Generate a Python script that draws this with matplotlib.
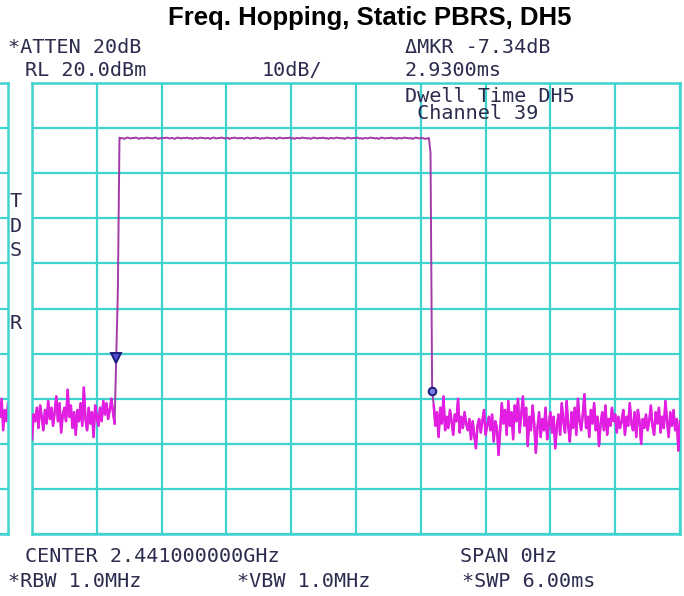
import numpy as np
import matplotlib
matplotlib.use("Agg")
import matplotlib.pyplot as plt

# ---------------- data ----------------
sweep_ms = 6.0
ref_level_dbm = 20.0
db_per_div = 10.0

noise_left = [
    -59.0, -53.5, -55.0, -52.0, -56.5, -51.5, -54.0, -57.0, -52.5, -55.5,
    -50.5, -54.5, -52.0, -56.0, -53.0, -49.5, -55.0, -51.0, -57.5, -53.5,
    -52.0, -55.0, -48.0, -54.0, -51.5, -56.5, -53.0, -58.0, -52.5, -55.0,
    -51.0, -56.0, -47.5, -54.5, -57.0, -52.0, -55.5, -53.0, -58.5, -51.5,
    -54.0, -56.0, -52.0, -55.0, -50.5, -53.5, -51.0, -54.5, -52.5, -50.0,
    -53.0, -55.5,
]
rise_edge = [-41.0, -26.0]
pulse_top = [
    7.9, 7.7, 7.8, 7.6, 7.8, 7.9, 7.8, 7.7, 7.8, 7.8, 7.9, 7.8, 7.6, 7.8, 7.8, 7.7,
    7.8, 7.9, 7.8, 7.8, 7.7, 7.8, 7.9, 7.8, 7.6, 7.8, 7.7, 7.8, 7.8, 7.9, 7.8, 7.7,
    7.8, 7.8, 7.6, 7.8, 7.9, 7.8, 7.7, 7.8, 7.8, 7.8, 7.9, 7.7, 7.8, 7.6, 7.8, 7.8,
    7.7, 7.8, 7.9, 7.8, 7.8, 7.7, 7.8, 7.8, 7.6, 7.8, 7.9, 7.8, 7.7, 7.8, 7.8, 7.9,
    7.8, 7.7, 7.8, 7.8, 7.6, 7.8, 7.8, 7.9, 7.8, 7.7, 7.8, 7.8, 7.8, 7.6, 7.8, 7.9,
    7.8, 7.7, 7.8, 7.8, 7.9, 7.8, 7.8, 7.6, 7.8, 7.7, 7.8, 7.9, 7.8, 7.8, 7.7, 7.8,
    7.8, 7.6, 7.8, 7.9, 7.8, 7.7, 7.8, 7.8, 7.8, 7.9, 7.7, 7.8, 7.6, 7.8, 7.8, 7.7,
    7.8, 7.9, 7.8, 7.8, 7.7, 7.8, 7.6, 7.8, 7.9, 7.8, 7.7, 7.8, 7.8, 7.8, 7.9, 7.7,
    7.8, 7.6, 7.8, 7.8, 7.7, 7.8, 7.9, 7.8, 7.8, 7.7, 7.8, 7.6, 7.8, 7.9, 7.8, 7.7,
    7.8, 7.8, 7.8, 7.9, 7.7, 7.8, 7.6, 7.8, 7.8, 7.7, 7.8, 7.9, 7.8, 7.8, 7.7, 7.8,
    7.6, 7.8, 7.9, 7.8, 7.7, 7.8, 7.8, 7.8, 7.9, 7.7, 7.8, 7.6, 7.8, 7.8, 7.7, 7.8,
    7.9, 7.8, 7.8, 7.7, 7.8, 7.6, 7.8, 7.9, 7.8, 7.7, 7.8, 7.8, 7.7, 7.6, 7.7, 7.8,
]
fall_edge = [4.5, -48.3]
noise_right = [
    -51.5, -56.0, -53.0, -58.5, -52.0, -55.5, -49.5, -57.0, -54.0, -56.5, -52.5, -55.0, -58.0, -53.5, -55.0, -50.0, -57.5,
    -54.0, -56.5, -53.0, -55.5, -57.0, -54.5, -59.0, -55.0, -58.0, -61.0, -56.0, -54.5, -57.5, -55.0, -52.5, -58.0, -56.0,
    -54.0, -57.0, -53.5, -59.5, -55.0, -56.5, -62.5, -57.0, -51.0, -55.5, -52.5, -58.0, -50.5, -56.0, -53.0, -59.0, -51.5,
    -55.0, -50.0, -57.5, -53.5, -49.5, -56.0, -52.0, -60.5, -54.0, -57.0, -51.5, -55.5, -62.0, -56.5, -53.0, -58.5, -54.5,
    -57.0, -52.0, -59.0, -55.5, -53.0, -57.5, -54.0, -61.0, -56.0, -53.5, -58.0, -51.0, -55.0, -57.5, -50.5, -56.0, -59.5,
    -53.0, -56.5, -52.0, -58.0, -50.0, -55.0, -57.0, -53.5, -49.0, -56.5, -54.0, -58.5, -52.5, -55.5, -51.0, -57.0, -54.0,
    -60.5, -55.5, -53.0, -57.0, -51.5, -58.0, -54.5, -56.0, -52.0, -55.0, -53.5, -57.5, -54.0, -56.5, -55.0, -52.5, -58.0,
    -54.0, -56.0, -51.0, -55.5, -57.0, -53.0, -58.5, -52.5, -55.0, -60.0, -54.5, -56.5, -53.5, -57.0, -55.0, -51.5, -56.0,
    -58.0, -53.0, -55.5, -52.0, -57.5, -54.0, -56.5, -50.5, -55.0, -58.5, -53.0, -56.0, -52.5, -57.0, -54.5, -61.5, -55.0,
]
strip_trace = [-54.0, -50.0, -57.0, -52.5, -55.0, -51.0]

marker1_index = 52
marker2_index = 247

title = "Freq. Hopping, Static PBRS, DH5"
header_left_1 = "*ATTEN 20dB"
header_left_2 = "RL 20.0dBm"
header_mid_2 = "10dB/"
header_right_1 = "\u0394MKR -7.34dB"
header_right_2 = "2.9300ms"
note_lines = ["Dwell Time DH5", " Channel 39"]
footer_1a = "CENTER 2.441000000GHz"
footer_1b = "SPAN 0Hz"
footer_2a = "*RBW 1.0MHz"
footer_2b = "*VBW 1.0MHz"
footer_2c = "*SWP 6.00ms"
side_letters = ["T", "D", "S", "R"]

# ---------------- figure ----------------
W, H = 684, 596
fig = plt.figure(figsize=(W / 100, H / 100), dpi=100)
fig.patch.set_facecolor("white")

grid_col = "#3fd3d0"
pulse_col = "#a23aa8"
noise_col = "#e21ee2"
txt_col = "#2c2c4e"
mono = "DejaVu Sans Mono"

left_px, right_px, top_px, bot_px = 32, 680, 83, 534


def fx(x):
    return x / W


def fy(y):
    return 1 - y / H


trace = noise_left + rise_edge + pulse_top + fall_edge + noise_right
n = len(trace)
t = np.linspace(0, sweep_ms, n)
nl = len(noise_left)
nr_start = n - len(noise_right)

ax = fig.add_axes([fx(left_px), fy(bot_px), fx(right_px - left_px), (bot_px - top_px) / H])
ax.set_xlim(0, sweep_ms)
bottom_level = ref_level_dbm - 10 * db_per_div
ax.set_ylim(bottom_level, ref_level_dbm)
ax.set_xticks(np.linspace(0, sweep_ms, 11))
ax.set_yticks(np.arange(bottom_level, ref_level_dbm + 1, db_per_div))
ax.grid(True, color=grid_col, lw=1.6)
ax.tick_params(length=0, labelbottom=False, labelleft=False)
for s in ax.spines.values():
    s.set_color(grid_col)
    s.set_linewidth(1.8)
ax.set_axisbelow(True)
ax.plot(t, trace, color=pulse_col, lw=1.4, zorder=3)
ax.plot(t[:nl], trace[:nl], color=noise_col, lw=1.8, zorder=3)
ax.plot(t[nr_start:], trace[nr_start:], color=noise_col, lw=1.8, zorder=3)
ax.plot(t[marker1_index], trace[marker1_index], marker="v", ms=7, mfc="#5050d0",
        mec="#1c1c7a", mew=1.4, zorder=4)
ax.plot(t[marker2_index], trace[marker2_index], marker="o", ms=5.5, mfc="#7a7ae0",
        mec="#1c1c7a", mew=1.4, zorder=4)

# narrow strip at left (end of previous screen)
ax2 = fig.add_axes([0, fy(bot_px), fx(8), (bot_px - top_px) / H])
ax2.set_xlim(0, len(strip_trace) - 1)
ax2.set_ylim(bottom_level, ref_level_dbm)
ax2.set_xticks([])
ax2.set_yticks(np.arange(bottom_level, ref_level_dbm + 1, db_per_div))
ax2.grid(True, axis="y", color=grid_col, lw=1.6)
ax2.tick_params(length=0, labelbottom=False, labelleft=False)
for k, s in ax2.spines.items():
    s.set_visible(k in ("right", "top", "bottom"))
    s.set_color(grid_col)
    s.set_linewidth(1.8)
ax2.plot(range(len(strip_trace)), strip_trace, color=noise_col, lw=1.8)

# ---------------- texts ----------------
fig.text(fx(370), fy(25), title, ha="center", va="baseline", fontsize=18.5,
         fontweight="bold", family="Liberation Sans", color="black")

FS = 14.5
lines = [
    (header_left_1, 8, 53), (header_right_1, 405, 53),
    (header_left_2, 25, 76), (header_mid_2, 262, 76), (header_right_2, 405, 76),
    (footer_1a, 25, 562), (footer_1b, 460, 562),
    (footer_2a, 8, 587), (footer_2b, 237, 587), (footer_2c, 462, 587),
]
for s, x, y in lines:
    fig.text(fx(x), fy(y), s, ha="left", va="baseline", fontsize=FS,
             family=mono, color=txt_col)

fig.text(fx(405), fy(87), "\n".join(note_lines), ha="left", va="top", fontsize=FS,
         family=mono, color=txt_col, linespacing=0.85)

for s, y in zip(side_letters, [207, 232, 256, 329]):
    fig.text(fx(10), fy(y), s, ha="left", va="baseline", fontsize=FS,
             family=mono, color=txt_col)

fig.savefig("out.png", dpi=100, facecolor="white")
